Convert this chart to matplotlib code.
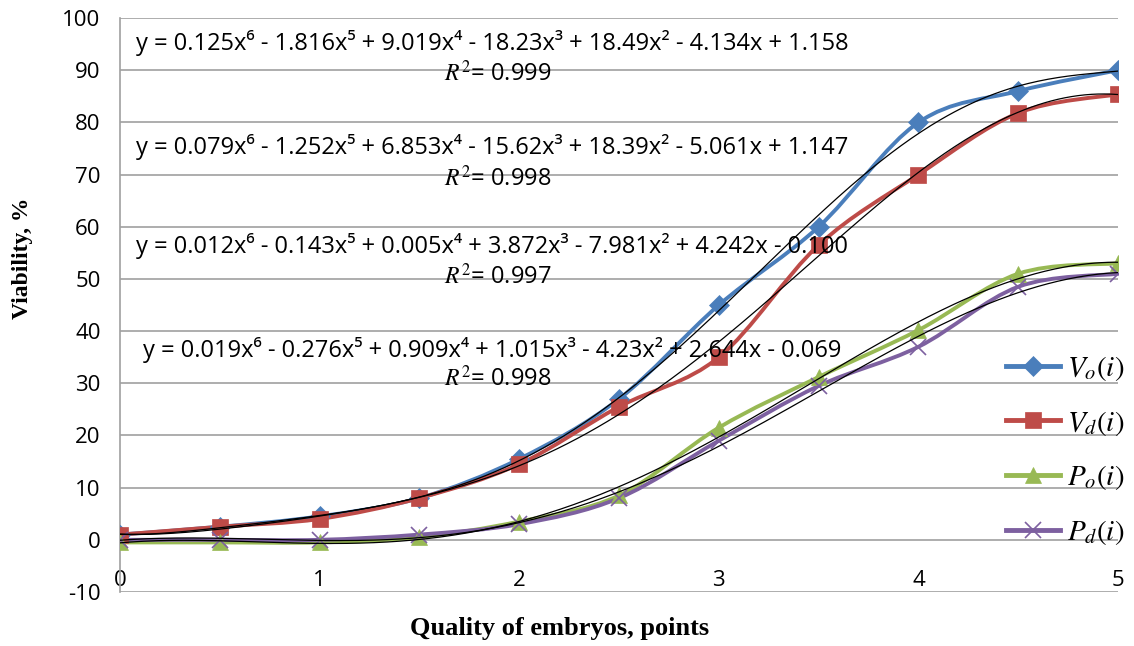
import matplotlib
matplotlib.use('Agg')
import matplotlib.pyplot as plt
from matplotlib.path import Path
from matplotlib.patches import PathPatch
from matplotlib.lines import Line2D
import numpy as np

# данные
quality = [0, 0.5, 1, 1.5, 2, 2.5, 3, 3.5, 4, 4.5, 5]
v_o = [1, 2.5, 4.5, 8, 15.5, 27, 45, 60, 80, 86, 90]
v_d = [1, 2.5, 4, 8, 14.5, 25.5, 35, 56.5, 70, 81.8, 85.4]
p_o = [-0.5, -0.5, -0.5, 0.5, 3.5, 8.5, 21.5, 31.2, 40.2, 51, 53]
p_d = [0, 0, 0, 1, 3, 8, 19, 29.5, 37, 48.5, 51]

labels = [r'$V_o(i)$', r'$V_d(i)$', r'$P_o(i)$', r'$P_d(i)$']
equations = [
    'y = 0.125x⁶ - 1.816x⁵ + 9.019x⁴ - 18.23x³ + 18.49x² - 4.134x + 1.158',
    'y = 0.079x⁶ - 1.252x⁵ + 6.853x⁴ - 15.62x³ + 18.39x² - 5.061x + 1.147',
    'y = 0.012x⁶ - 0.143x⁵ + 0.005x⁴ + 3.872x³ - 7.981x² + 4.242x - 0.100',
    'y = 0.019x⁶ - 0.276x⁵ + 0.909x⁴ + 1.015x³ - 4.23x² + 2.644x - 0.069',
]
r_squared = ['0.999', '0.998', '0.997', '0.998']

colors = ['#4a7ebb', '#be4b48', '#98b954', '#7d60a0']
markers = ['D', 's', '^', 'x']
msizes = [10, 12, 11, 11]

plt.rcParams['mathtext.fontset'] = 'stix'
plt.rcParams['axes.unicode_minus'] = False


def smooth_path(x, y):
    """Сглаженная линия как в Excel (кривые Безье через точки)."""
    pts = np.column_stack([x, y]).astype(float)
    n = len(pts)
    verts = [pts[0]]
    codes = [Path.MOVETO]
    for i in range(n - 1):
        p0 = pts[i - 1] if i > 0 else pts[i]
        p1 = pts[i]
        p2 = pts[i + 1]
        p3 = pts[i + 2] if i + 2 < n else pts[i + 1]
        c1 = p1 + (p2 - p0) / 6.0
        c2 = p2 - (p3 - p1) / 6.0
        verts += [c1, c2, p2]
        codes += [Path.CURVE4] * 3
    return Path(verts, codes)


fig = plt.figure(figsize=(11.34, 6.46), dpi=100)
ax = fig.add_axes([0.1058, 0.0836, 0.8802, 0.8885])

series = [v_o, v_d, p_o, p_d]
for i, vals in enumerate(series):
    patch = PathPatch(smooth_path(quality, vals), facecolor='none',
                      edgecolor=colors[i], linewidth=2.8, zorder=3,
                      capstyle='round', joinstyle='round')
    ax.add_patch(patch)
    ax.plot(quality, vals, linestyle='none', marker=markers[i],
            markersize=msizes[i], color=colors[i],
            markeredgewidth=1.2 if markers[i] == 'x' else 0.5,
            zorder=4)

# линии тренда (полином 6-й степени)
xs = np.linspace(0, 5, 300)
for vals in series:
    coef = np.polyfit(quality, vals, 6)
    ax.plot(xs, np.polyval(coef, xs), color='black', linewidth=0.9, zorder=5)

eq_y = [95.2, 75.3, 56.3, 36.4]
r_y = [89.1, 69.0, 50.2, 30.7]
for eq, r2, ey, ry in zip(equations, r_squared, eq_y, r_y):
    ax.text(1.865, ey, eq, ha='center', va='center', fontsize=17,
            family=['Open Sans', 'DejaVu Sans'], zorder=6)
    ax.text(1.89, ry, r'$\mathit{R}^2$' + '= ' + r2, ha='center', va='center',
            fontsize=17, family=['Open Sans', 'DejaVu Sans'], zorder=6)

ax.set_xlim(0, 5)
ax.set_ylim(-10, 100)
ax.set_yticks(np.arange(-10, 101, 10))
ax.set_xticks([0, 1, 2, 3, 4, 5])
ax.grid(axis='y', color='#a0a0a0', linewidth=1.2)
ax.set_axisbelow(True)
for s in ['top', 'right', 'bottom']:
    ax.spines[s].set_visible(False)
ax.spines['left'].set_color('#a0a0a0')
ax.spines['left'].set_linewidth(1.2)
ax.tick_params(axis='both', length=0, labelsize=16)
ax.tick_params(axis='x', pad=-16)
ax.tick_params(axis='y', pad=14)
for lab in ax.get_xticklabels() + ax.get_yticklabels():
    lab.set_family(['Open Sans', 'DejaVu Sans'])

ax.set_ylabel('Viability, %', family='Liberation Serif', fontweight='bold',
              fontsize=17)
ax.yaxis.set_label_coords(-0.098, 0.582)
ax.yaxis.label.set_va('center')
ax.set_xlabel('Quality of embryos, points', family='Liberation Serif',
              fontweight='bold', fontsize=19)
ax.xaxis.set_label_coords(0.44, -0.063)
ax.xaxis.label.set_va('center')

handles = [Line2D([0], [0], color=colors[i], lw=3.5, marker=markers[i],
                  markersize=msizes[i],
                  markeredgewidth=1.2 if markers[i] == 'x' else 0.5)
           for i in range(4)]
fig.legend(handles, labels, loc='upper left', bbox_to_anchor=(0.887, 0.452),
           frameon=False, fontsize=21, handlelength=1.85, handletextpad=0.25,
           labelspacing=0.88, borderpad=0, borderaxespad=0)

fig.savefig('out.png', dpi=100)
